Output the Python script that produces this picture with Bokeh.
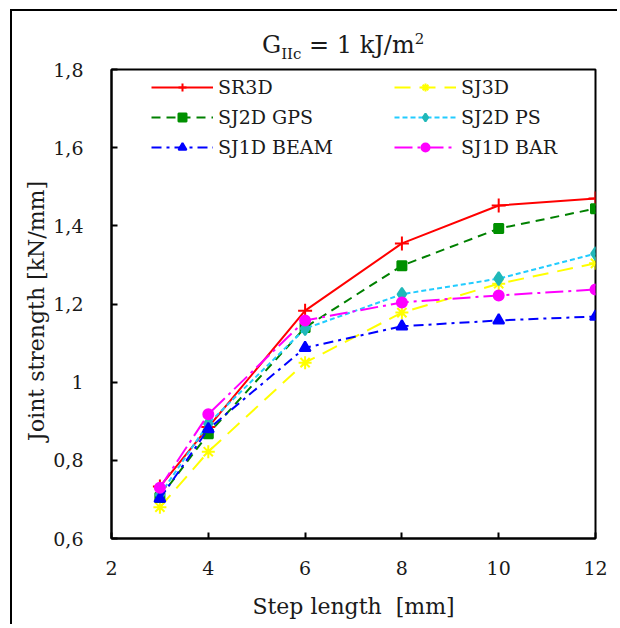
from bokeh.plotting import figure
from bokeh.models import Legend, LegendItem, FixedTicker, Range1d, Div
from bokeh.layouts import column
from bokeh.embed import file_html
from bokeh.resources import INLINE

step_length = [3, 4, 6, 8, 10, 12]
sr3d      = [0.733, 0.885, 1.183, 1.355, 1.452, 1.470]
sj3d      = [0.680, 0.822, 1.050, 1.178, 1.252, 1.304]
sj2d_gps  = [0.705, 0.868, 1.140, 1.298, 1.393, 1.444]
sj2d_ps   = [0.712, 0.894, 1.137, 1.225, 1.265, 1.329]
sj1d_beam = [0.702, 0.880, 1.088, 1.143, 1.158, 1.168]
sj1d_bar  = [0.730, 0.918, 1.158, 1.204, 1.222, 1.237]

x_ticks = [2, 4, 6, 8, 10, 12]
y_ticks = [0.6, 0.8, 1.0, 1.2, 1.4, 1.6, 1.8]
y_tick_labels = ["0,6", "0,8", "1", "1,2", "1,4", "1,6", "1,8"]

FONT = "DejaVu Serif"
TXT = "#1a1a1a"

p = figure(title=None, frame_width=484, frame_height=469, output_backend="svg",
           toolbar_location=None, x_range=Range1d(2, 12), y_range=Range1d(0.6, 1.8),
           min_border_left=99, min_border_right=22, min_border_top=14, min_border_bottom=86)
p.border_fill_color = None
p.background_fill_color = "white"
p.xgrid.visible = False
p.ygrid.visible = False
p.outline_line_color = "black"
p.outline_line_width = 2
p.outline_line_alpha = 1

for ax in (p.xaxis[0], p.yaxis[0]):
    ax.axis_line_color = "black"
    ax.axis_line_width = 2
    ax.major_tick_in = 6
    ax.major_tick_out = 0
    ax.major_tick_line_width = 2
    ax.minor_tick_line_color = None
    ax.major_label_text_font = FONT
    ax.major_label_text_font_size = "19px"
    ax.major_label_text_color = TXT
    ax.axis_label_text_font = FONT
    ax.axis_label_text_font_size = "22px"
    ax.axis_label_text_font_style = "normal"
    ax.axis_label_text_color = TXT

p.xaxis.ticker = FixedTicker(ticks=x_ticks)
p.yaxis.ticker = FixedTicker(ticks=y_ticks)
p.yaxis.major_label_overrides = {t: l for t, l in zip(y_ticks, y_tick_labels)}
p.xaxis.axis_label = "Step length\u00a0 [mm]"
p.yaxis.axis_label = "Joint strength [kN/mm]\u00a0\u00a0"
p.xaxis.major_label_standoff = 22
p.xaxis.axis_label_standoff = 16
p.yaxis.major_label_standoff = 28
p.yaxis.axis_label_standoff = 1

series = [
    ("SR3D", sr3d, "#FF0000", "solid", "cross", 14, "#FF0000"),
    ("SJ3D", sj3d, "#FFFF00", "16 9", "asterisk", 13, "#FFFF00"),
    ("SJ2D GPS", sj2d_gps, "#008000", "9 6", "square", 9, "#009000"),
    ("SJ2D PS", sj2d_ps, "#22CCFF", "5 3", "diamond", 13, "#20B8B8"),
    ("SJ1D BEAM", sj1d_beam, "#0000FF", "10 5 3 5", "triangle", 11, "#0000FF"),
    ("SJ1D BAR", sj1d_bar, "#FF00FF", "18 5 3 5", "circle", 10, "#FF00FF"),
]

items = {}
for name, ys, col, dash, marker, size, mcol in series:
    l = p.line(step_length, ys, line_color=col, line_width=2, line_dash=dash)
    m = p.scatter(step_length, ys, marker=marker, size=size, line_color=mcol,
                  fill_color=mcol, line_width=2)
    items[name] = LegendItem(label=name, renderers=[l, m])

order = ["SR3D", "SJ2D GPS", "SJ1D BEAM", "SJ3D", "SJ2D PS", "SJ1D BAR"]
legend = Legend(items=[items[n] for n in order], ncols=2,
                glyph_width=62, glyph_height=20, label_standoff=5, label_width=168,
                spacing=8, padding=0, margin=0,
                label_text_font=FONT, label_text_font_size="19px",
                label_text_color=TXT,
                border_line_color=None, background_fill_alpha=0)
p.add_layout(legend)
legend.location = (40, 380)

title_html = (
    '<div style="font-family:\'DejaVu Serif\';font-size:24px;color:#1a1a1a;'
    'white-space:nowrap;margin-left:250px;padding-top:20px;line-height:28px;">'
    'G<sub style="font-size:15px;line-height:0;">IIc</sub> = 1 kJ/m'
    '<sup style="font-size:15px;line-height:0;">2</sup></div>'
)
title = Div(text=title_html, width=605, height=44, margin=(0, 0, 0, 0),
            styles={"overflow": "visible", "position": "relative", "z-index": "2"})

layout = column(title, p, spacing=0,
                styles={"border-left": "2px solid black", "border-top": "2px solid black",
                        "margin-left": "10px", "margin-top": "9px"})

open("out.html", "w").write(file_html(layout, INLINE))
